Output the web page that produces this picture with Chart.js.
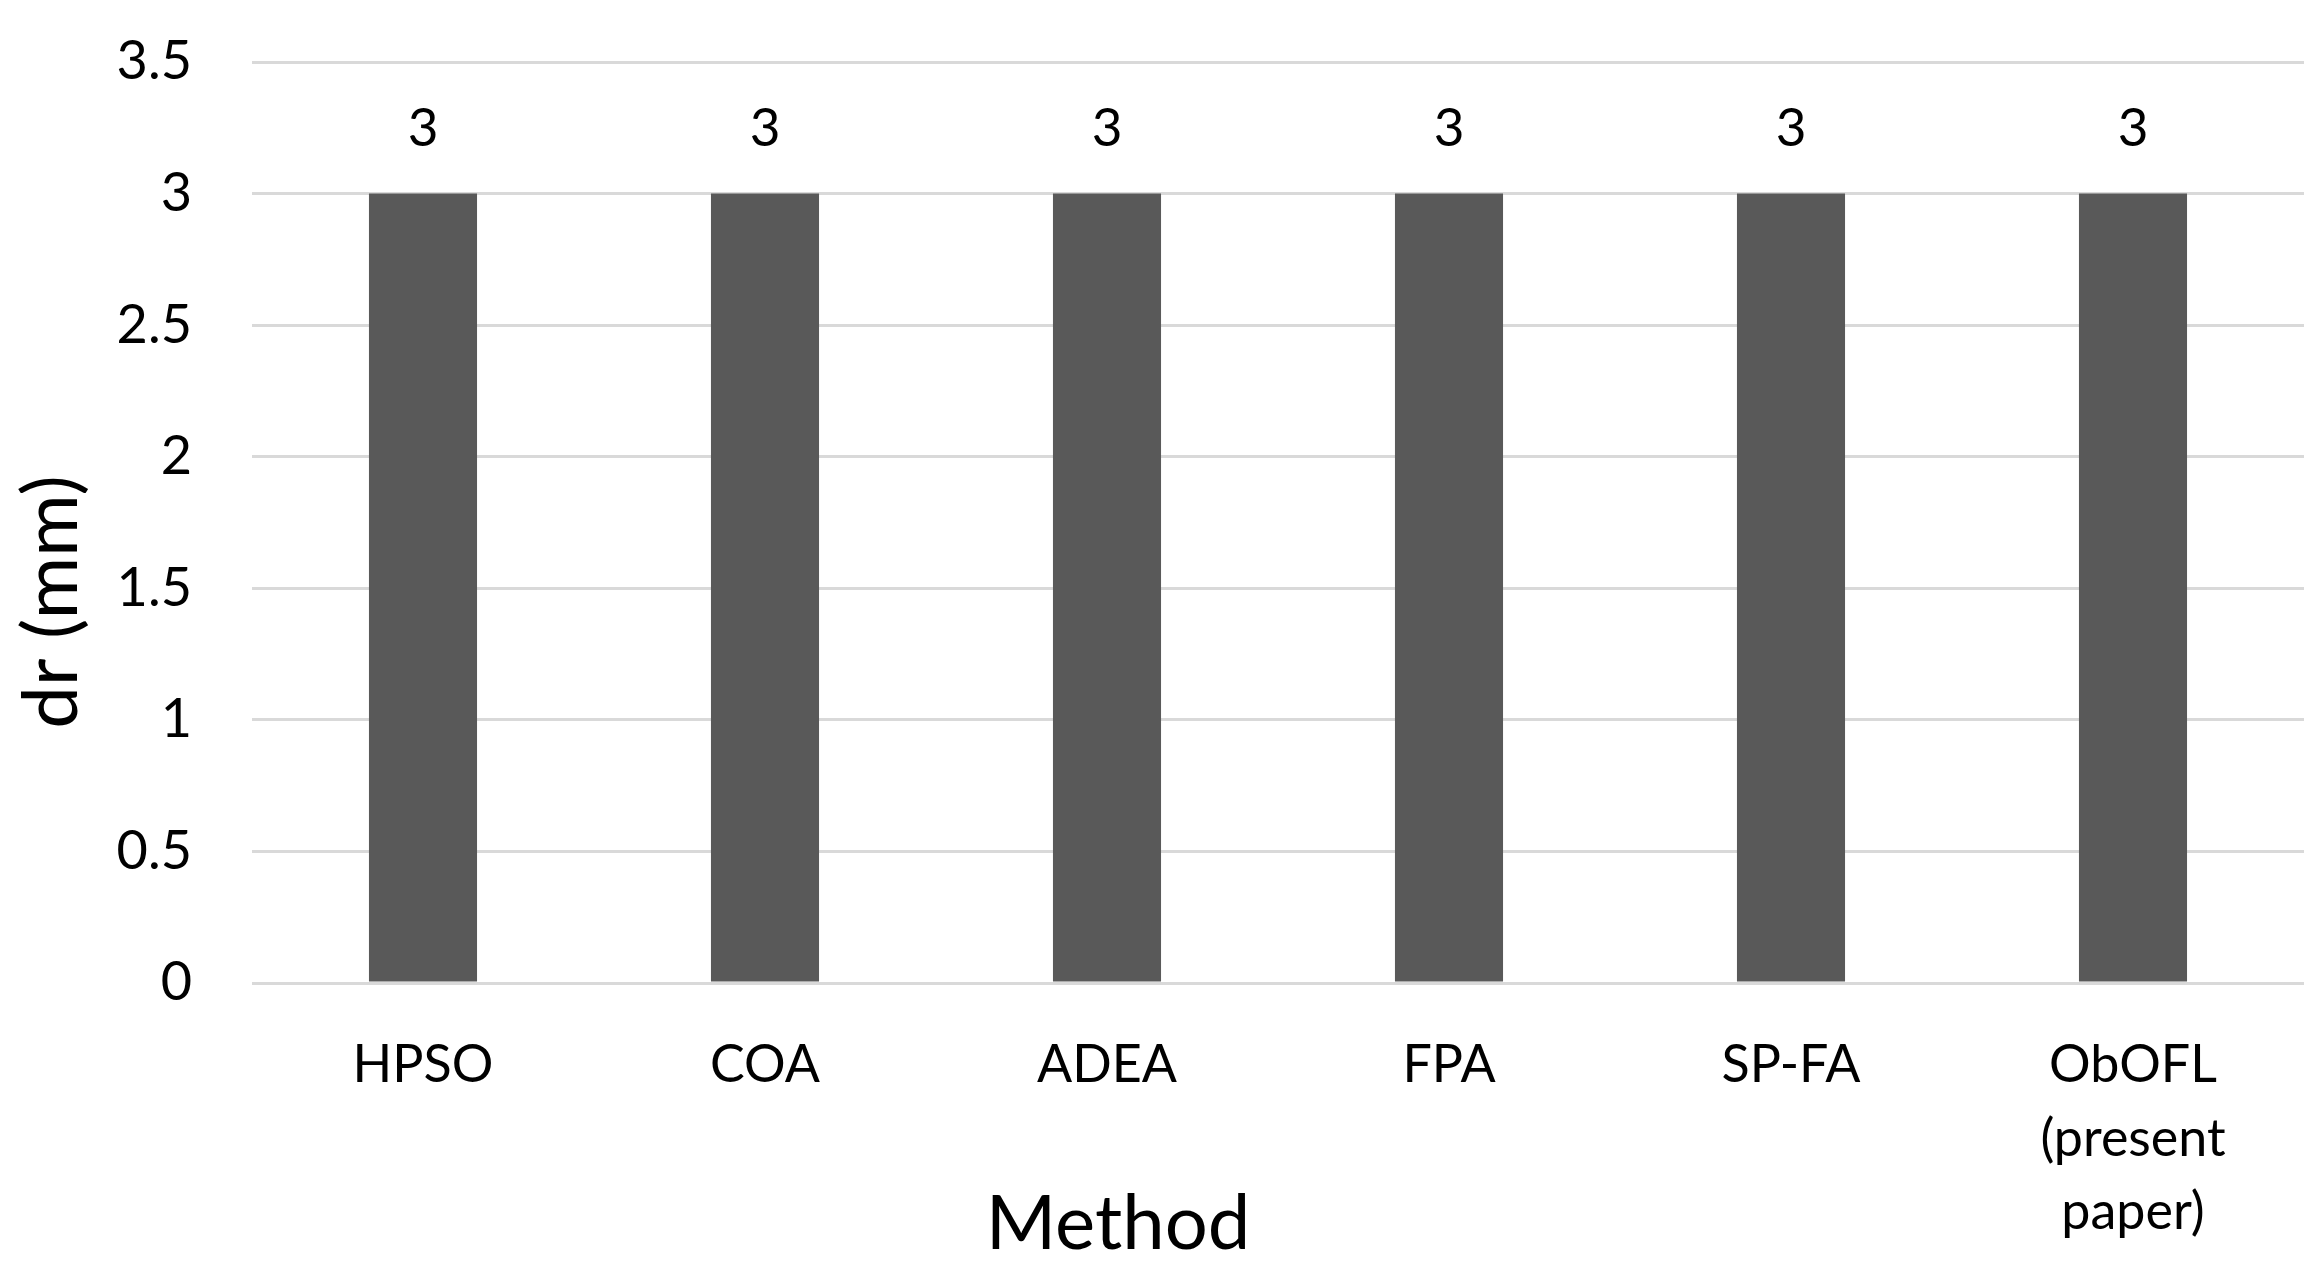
<!DOCTYPE html>
<html>
<head>
<meta charset="utf-8">
<script src="https://cdn.jsdelivr.net/npm/chart.js@4/dist/chart.umd.min.js"></script>
<style>
  html, body { margin: 0; padding: 0; background: #fff; }
  #wrap { width: 2322px; height: 1275px; }
</style>
</head>
<body>
<div id="wrap"><canvas id="c" width="2322" height="1275"></canvas></div>
<script>
const categories = ['HPSO', 'COA', 'ADEA', 'FPA', 'SP-FA', ['ObOFL', '(present', 'paper)']];
const drValues = [3, 3, 3, 3, 3, 3];
const yTicks = [0, 0.5, 1, 1.5, 2, 2.5, 3, 3.5];
const xTitle = 'Method';
const yTitle = 'dr (mm)';

const FONT = 'Lato, "Open Sans", sans-serif';

const valueLabels = {
  id: 'valueLabels',
  afterDatasetsDraw(chart) {
    const ctx = chart.ctx;
    const meta = chart.getDatasetMeta(0);
    ctx.save();
    ctx.fillStyle = '#000';
    ctx.font = '53px ' + FONT;
    ctx.textAlign = 'center';
    ctx.textBaseline = 'alphabetic';
    meta.data.forEach((bar, i) => {
      ctx.fillText(String(chart.data.datasets[0].data[i]), bar.x, bar.y - 48);
    });
    ctx.restore();
  }
};

const axisTitles = {
  id: 'axisTitles',
  afterDraw(chart) {
    const ctx = chart.ctx;
    ctx.save();
    ctx.fillStyle = '#000';
    ctx.font = '76px ' + FONT;
    ctx.textAlign = 'center';
    ctx.textBaseline = 'alphabetic';
    ctx.fillText(xTitle, 1118, 1249);
    ctx.translate(77, 602);
    ctx.rotate(-Math.PI / 2);
    ctx.fillText(yTitle, 0, 0);
    ctx.restore();
  }
};

new Chart(document.getElementById('c'), {
  type: 'bar',
  data: {
    labels: categories,
    datasets: [{
      data: drValues,
      backgroundColor: '#595959',
      borderWidth: 0,
      categoryPercentage: 1,
      barPercentage: 0.316
    }]
  },
  options: {
    responsive: false,
    animation: false,
    devicePixelRatio: 1,
    layout: { padding: { left: 0, right: 18, top: 62, bottom: 0 } },
    plugins: { legend: { display: false }, tooltip: { enabled: false } },
    scales: {
      x: {
        grid: { display: false },
        border: { display: false },
        ticks: {
          color: '#000',
          font: { family: FONT, size: 52, lineHeight: 1.42 },
          padding: 37,
          maxRotation: 0,
          autoSkip: false
        },
        afterFit(scale) { scale.height = 292; }
      },
      y: {
        min: 0,
        max: 3.5,
        afterBuildTicks(scale) { scale.ticks = yTicks.map(v => ({ value: v })); },
        grid: { color: '#d9d9d9', lineWidth: 3, drawTicks: false },
        border: { display: false },
        ticks: {
          color: '#000',
          font: { family: FONT, size: 54 },
          padding: 60,
          callback: (v) => String(v)
        },
        afterFit(scale) {
          scale.width = 252;
          scale.paddingTop = 30;
          scale.paddingBottom = 30;
        }
      }
    }
  },
  plugins: [valueLabels, axisTitles]
});
</script>
</body>
</html>
